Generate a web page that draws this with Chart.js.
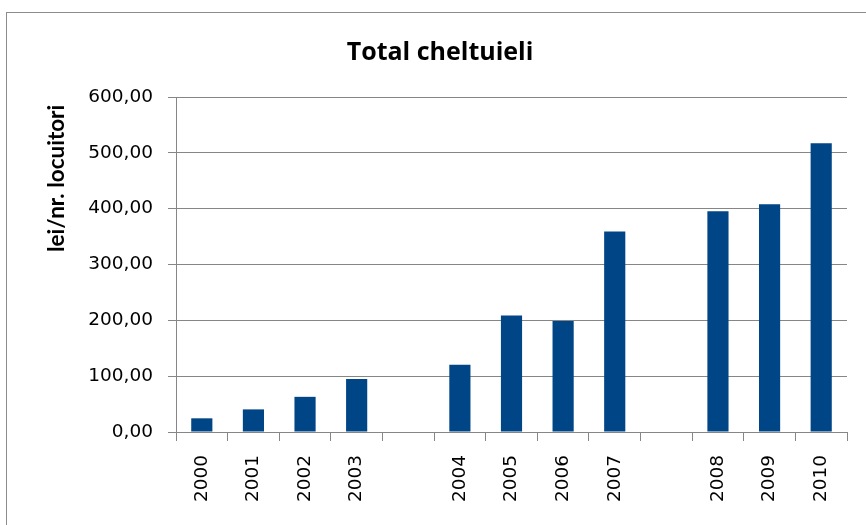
<!DOCTYPE html>
<html>
<head>
<meta charset="utf-8">
<script src="https://cdn.jsdelivr.net/npm/chart.js@4/dist/chart.umd.min.js"></script>
<style>
  html, body { margin: 0; padding: 0; background: #fff; }
  canvas { display: block; }
</style>
</head>
<body>
<canvas id="c" width="866" height="525"></canvas>
<script>
const categories = ['2000', '2001', '2002', '2003', '', '2004', '2005', '2006', '2007', '', '2008', '2009', '2010'];
const values = [24.5, 40.5, 63, 95, null, 120.5, 208.5, 199, 359, null, 395.5, 408, 517];
const yTicks = [0, 100, 200, 300, 400, 500, 600];
const chartTitle = 'Total cheltuieli';
const yTitle = 'lei/nr. locuitori';

const borderPlugin = {
  id: 'outerBorder',
  beforeDraw(chart) {
    const ctx = chart.ctx;
    ctx.save();
    ctx.fillStyle = '#fff';
    ctx.fillRect(0, 0, chart.width, chart.height);
    ctx.strokeStyle = '#8c8c8c';
    ctx.lineWidth = 1;
    ctx.strokeRect(6.5, 12.5, 1000, 1000);
    ctx.restore();
  }
};

const titlesPlugin = {
  id: 'titlesText',
  afterDraw(chart) {
    const ctx = chart.ctx;
    const area = chart.chartArea;
    ctx.save();
    ctx.fillStyle = '#000';
    ctx.font = 'bold 25px "Open Sans"';
    ctx.textAlign = 'center';
    ctx.textBaseline = 'alphabetic';
    ctx.fillText(chartTitle, 440, 60);
    ctx.translate(56.5, area.top + 155);
    ctx.rotate(-Math.PI / 2);
    ctx.font = 'bold 22.5px Lato';
    ctx.textAlign = 'left';
    ctx.textBaseline = 'middle';
    ctx.fillText(yTitle, 0, 0);
    ctx.restore();
  }
};

new Chart(document.getElementById('c'), {
  type: 'bar',
  data: {
    labels: categories,
    datasets: [{
      data: values,
      backgroundColor: '#004586',
      borderWidth: 0,
      barPercentage: 0.41,
      categoryPercentage: 1
    }]
  },
  options: {
    responsive: false,
    animation: false,
    devicePixelRatio: 1,
    layout: { padding: { left: 0, right: 19, top: 97, bottom: 0 } },
    plugins: {
      legend: { display: false },
      tooltip: { enabled: false },
      title: { display: false }
    },
    scales: {
      x: {
        offset: true,
        grid: {
          offset: true,
          drawOnChartArea: false,
          drawTicks: true,
          tickLength: 9,
          color: '#868686',
          lineWidth: 1
        },
        border: { color: '#868686', width: 1 },
        ticks: {
          color: '#000',
          font: { family: 'DejaVu Sans', size: 18.5 },
          minRotation: 90,
          maxRotation: 90,
          autoSkip: false,
          padding: 14
        },
        afterFit(scale) { scale.height = 93; }
      },
      y: {
        min: 0,
        max: 600,
        afterBuildTicks(scale) { scale.ticks = yTicks.map(v => ({ value: v })); },
        grid: {
          color: '#868686',
          lineWidth: 1,
          drawTicks: true,
          tickLength: 8
        },
        border: { color: '#868686', width: 1 },
        ticks: {
          color: '#000',
          font: { family: 'DejaVu Sans', size: 18.5 },
          padding: 15,
          callback: v => v.toFixed(2).replace('.', ',')
        },
        afterFit(scale) { scale.width = 176; }
      }
    }
  },
  plugins: [borderPlugin, titlesPlugin]
});
</script>
</body>
</html>
